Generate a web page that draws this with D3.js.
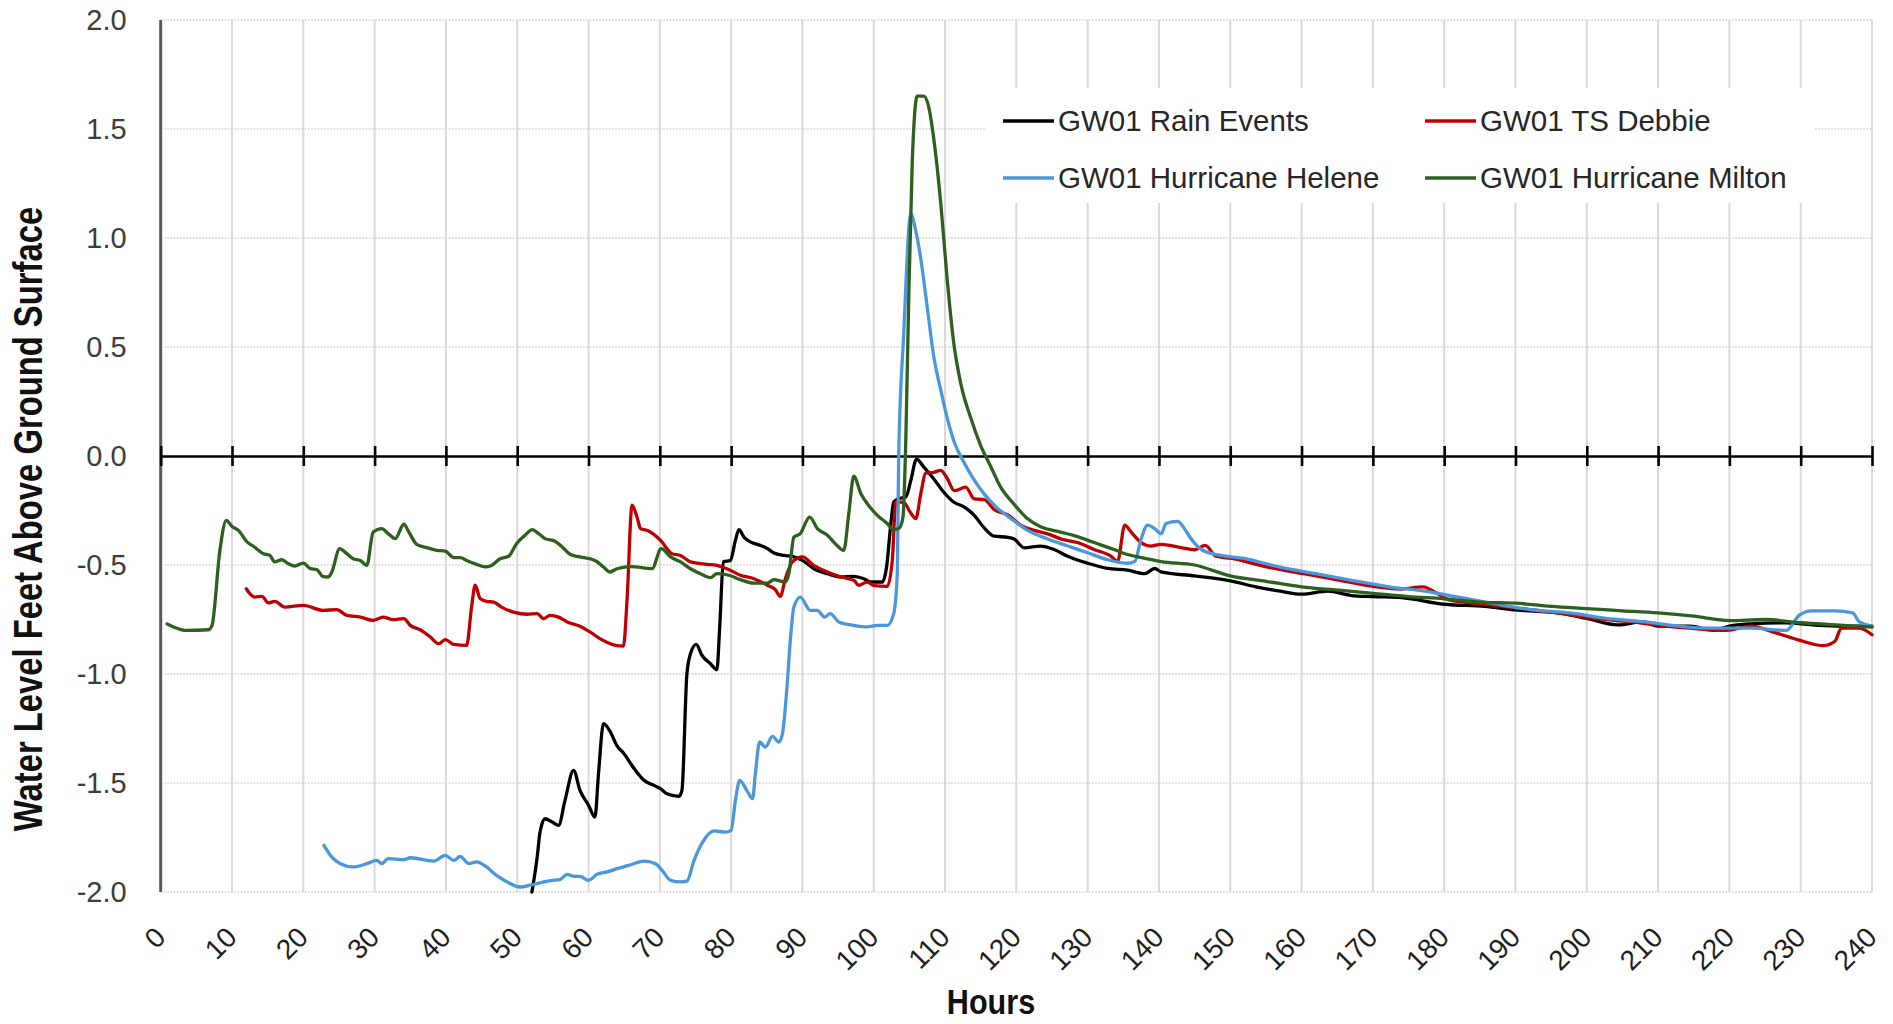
<!DOCTYPE html>
<html>
<head>
<meta charset="utf-8">
<script src="https://cdn.jsdelivr.net/npm/d3@7"></script>
<style>
  html, body { margin: 0; padding: 0; background: #ffffff; }
  svg { display: block; }
</style>
</head>
<body>
<svg id="chart" width="1893" height="1024"></svg>
<script>
// Water level readings at well GW01: [hours since start, feet above ground surface]
const rainEvents = [
  [52.06,-2.0],[52.8,-1.84],[53.2,-1.725],[53.9,-1.664],[54.9,-1.679],[55.8,-1.694],[56.7,-1.58],
  [57.9,-1.442],[58.8,-1.534],[60.0,-1.602],[60.9,-1.656],[61.4,-1.457],[62.1,-1.228],[63.0,-1.262],
  [64.0,-1.33],[64.9,-1.362],[66.4,-1.434],[67.8,-1.488],[69.2,-1.511],[70.1,-1.526],[71.0,-1.549],
  [72.7,-1.561],[73.1,-1.534],[73.8,-0.998],[74.3,-0.907],[75.1,-0.864],[75.9,-0.914],[77.1,-0.953],
  [78.0,-0.980],[78.4,-0.784],[78.9,-0.486],[79.9,-0.479],[80.6,-0.387],[81.1,-0.338],[81.8,-0.372],
  [82.7,-0.394],[84.1,-0.410],[85.1,-0.425],[86.0,-0.445],[87.4,-0.456],[88.6,-0.460],[90.0,-0.479],
  [91.6,-0.517],[93.5,-0.540],[95.4,-0.555],[97.2,-0.552],[98.6,-0.563],[99.6,-0.578],[101.2,-0.578],
  [101.8,-0.509],[102.4,-0.310],[102.8,-0.211],[103.5,-0.196],[104.5,-0.188],[105.2,-0.112],[106.0,-0.014],
  [107.0,-0.050],[108.4,-0.104],[109.8,-0.165],[111.2,-0.211],[112.7,-0.234],[114.1,-0.272],[115.5,-0.330],
  [116.9,-0.368],[118.8,-0.373],[119.7,-0.381],[121.1,-0.421],[123.4,-0.413],[125.3,-0.429],[127.2,-0.460],
  [130.0,-0.492],[132.8,-0.516],[135.6,-0.524],[138.0,-0.540],[139.4,-0.516],[140.3,-0.532],[145,-0.55],
  [150,-0.573],[153.6,-0.60],[157,-0.62],[160,-0.634],[163.7,-0.62],[167,-0.64],[170,-0.645],[174,-0.65],
  [180,-0.68],[185.7,-0.69],[190,-0.706],[196,-0.72],[200,-0.745],[204.4,-0.775],[207.8,-0.76],[210,-0.78],
  [214.5,-0.78],[217.9,-0.80],[220,-0.78],[223,-0.77],[228,-0.765],[230,-0.77],[235,-0.78],[240,-0.78]
];

const tsDebbie = [
  [12.0,-0.609],[12.5,-0.631],[13.2,-0.647],[14.2,-0.644],[15.1,-0.674],[16.0,-0.667],[17.4,-0.693],
  [20.0,-0.685],[22.8,-0.708],[24.7,-0.705],[26.1,-0.731],[28.0,-0.739],[29.8,-0.754],[31.2,-0.739],
  [32.6,-0.751],[34.1,-0.746],[35.0,-0.777],[36.4,-0.797],[37.8,-0.830],[39.0,-0.861],[39.9,-0.842],
  [41.1,-0.864],[42.9,-0.869],[43.6,-0.693],[44.1,-0.593],[44.8,-0.654],[45.7,-0.667],[46.7,-0.670],
  [47.8,-0.693],[49.5,-0.716],[51.4,-0.726],[52.8,-0.723],[53.7,-0.746],[54.6,-0.731],[55.8,-0.739],
  [57.0,-0.761],[58.8,-0.781],[60.2,-0.807],[61.6,-0.838],[63.5,-0.866],[64.9,-0.872],[65.4,-0.662],
  [66.1,-0.226],[66.8,-0.280],[67.3,-0.333],[68.2,-0.341],[70.1,-0.387],[71.7,-0.448],[72.9,-0.456],
  [74.3,-0.486],[76.6,-0.497],[78.0,-0.502],[79.4,-0.517],[81.3,-0.547],[83.2,-0.563],[85.1,-0.593],
  [86.2,-0.613],[86.9,-0.644],[87.6,-0.563],[88.6,-0.486],[90.0,-0.463],[91.6,-0.502],[93.5,-0.532],
  [95.4,-0.555],[97.2,-0.570],[97.9,-0.593],[99.1,-0.578],[100.0,-0.595],[101.9,-0.598],[102.6,-0.479],
  [103.1,-0.210],[104.2,-0.213],[105.1,-0.257],[105.9,-0.287],[106.6,-0.173],[107.3,-0.078],[108.4,-0.075],
  [109.4,-0.066],[110.3,-0.103],[111.3,-0.159],[112.9,-0.143],[114.1,-0.197],[115.5,-0.200],[116.9,-0.246],
  [118.8,-0.270],[120.6,-0.317],[122.5,-0.341],[124.4,-0.357],[126.3,-0.381],[128.6,-0.397],[130.9,-0.429],
  [133.3,-0.460],[134.2,-0.484],[135.2,-0.317],[136.1,-0.349],[137.5,-0.397],[138.9,-0.413],[140.3,-0.405],
  [143,-0.42],[145,-0.43],[146.5,-0.41],[148,-0.46],[150.2,-0.47],[155.3,-0.51],[160.3,-0.54],[165.4,-0.57],
  [170.5,-0.60],[174,-0.61],[177,-0.60],[179,-0.63],[180.7,-0.66],[185.7,-0.68],[190.8,-0.70],[195.9,-0.72],
  [201,-0.745],[206,-0.76],[211.1,-0.78],[214.5,-0.79],[219.6,-0.80],[223,-0.78],[226.4,-0.81],[229.8,-0.845],
  [233.2,-0.87],[234.8,-0.85],[235.7,-0.79],[238.2,-0.79],[240,-0.82]
];

const hurricaneHelene = [
  [22.9,-1.786],[24.0,-1.84],[25.2,-1.87],[27.0,-1.885],[28.9,-1.87],[30.3,-1.855],[31.0,-1.87],
  [31.9,-1.847],[34.1,-1.852],[35.0,-1.843],[38.3,-1.858],[39.9,-1.832],[41.1,-1.855],[42.0,-1.837],
  [43.2,-1.87],[44.3,-1.862],[45.7,-1.885],[47.1,-1.924],[48.6,-1.954],[50.4,-1.977],[51.8,-1.969],
  [53.7,-1.954],[55.1,-1.946],[56.0,-1.943],[57.0,-1.919],[57.9,-1.928],[58.8,-1.928],[60.0,-1.946],
  [61.2,-1.919],[62.6,-1.908],[64.0,-1.893],[65.9,-1.875],[67.8,-1.858],[69.4,-1.87],[70.3,-1.90],
  [71.5,-1.946],[72.9,-1.954],[73.8,-1.95],[74.8,-1.855],[76.0,-1.771],[77.6,-1.72],[79.2,-1.725],
  [80.0,-1.717],[80.6,-1.58],[81.2,-1.488],[82.2,-1.534],[83.0,-1.572],[83.4,-1.457],[84.0,-1.312],
  [84.8,-1.335],[85.8,-1.286],[86.7,-1.312],[87.2,-1.274],[87.8,-1.075],[88.3,-0.846],[88.8,-0.693],
  [89.7,-0.647],[91.1,-0.708],[92.1,-0.708],[93.1,-0.739],[93.9,-0.723],[95.1,-0.761],[97.2,-0.777],
  [99.1,-0.784],[100.5,-0.777],[101.9,-0.777],[102.8,-0.723],[103.3,-0.540],[103.5,0.0],[104.2,0.556],
  [105.2,1.111],[105.9,1.032],[106.6,0.905],[107.5,0.683],[108.4,0.460],[109.4,0.302],[110.3,0.175],
  [111.3,0.063],[112.7,-0.032],[114.1,-0.111],[115.5,-0.175],[117.3,-0.238],[119.2,-0.286],[121.6,-0.341],
  [124.4,-0.381],[127.2,-0.413],[130.0,-0.444],[132.8,-0.476],[135.6,-0.492],[136.6,-0.484],[137.5,-0.381],
  [138.4,-0.317],[139.4,-0.333],[140.3,-0.357],[141,-0.31],[142.6,-0.30],[143.5,-0.33],[144.3,-0.37],
  [146,-0.43],[148.5,-0.455],[151.9,-0.47],[157,-0.51],[162,-0.54],[167,-0.57],[172.2,-0.60],[177.3,-0.62],
  [182.4,-0.65],[187.4,-0.68],[192.5,-0.706],[197.6,-0.72],[202.7,-0.745],[207.8,-0.76],[212.8,-0.78],
  [217.9,-0.79],[223,-0.79],[228,-0.80],[229.8,-0.73],[231.5,-0.71],[234.8,-0.71],[237.3,-0.72],
  [238.2,-0.76],[240,-0.78]
];

const hurricaneMilton = [
  [0.9,-0.77],[1.8,-0.784],[3.6,-0.80],[6.7,-0.797],[7.2,-0.777],[8.3,-0.433],[9.2,-0.295],[10.0,-0.323],
  [10.9,-0.341],[12.1,-0.394],[13.0,-0.414],[14.4,-0.448],[15.3,-0.456],[16.0,-0.486],[17.0,-0.476],
  [17.9,-0.494],[18.8,-0.505],[20.0,-0.491],[21.0,-0.517],[21.9,-0.521],[22.7,-0.552],[23.5,-0.555],
  [24.0,-0.532],[25.1,-0.425],[26.1,-0.448],[27.0,-0.471],[28.0,-0.479],[28.9,-0.502],[29.8,-0.349],
  [31.0,-0.333],[31.9,-0.356],[32.9,-0.379],[34.1,-0.313],[34.8,-0.349],[35.9,-0.405],[37.3,-0.420],
  [38.7,-0.433],[39.9,-0.436],[41.1,-0.466],[42.0,-0.466],[42.9,-0.479],[44.3,-0.497],[45.5,-0.509],
  [46.4,-0.502],[47.6,-0.471],[48.8,-0.460],[49.9,-0.402],[51.1,-0.364],[52.1,-0.338],[53.0,-0.356],
  [53.9,-0.379],[55.3,-0.391],[56.3,-0.417],[57.4,-0.451],[58.8,-0.463],[60.9,-0.479],[62.1,-0.509],
  [63.0,-0.532],[64.0,-0.517],[66.0,-0.507],[68.9,-0.517],[70.2,-0.425],[71.5,-0.463],[72.9,-0.486],
  [74.3,-0.517],[75.7,-0.540],[77.1,-0.558],[78.0,-0.540],[79.7,-0.547],[81.3,-0.567],[83.2,-0.583],
  [85.1,-0.583],[86.0,-0.567],[87.6,-0.578],[88.1,-0.540],[88.8,-0.372],[89.7,-0.356],[91.0,-0.280],
  [92.1,-0.333],[93.5,-0.364],[94.6,-0.402],[95.8,-0.433],[96.5,-0.265],[97.2,-0.093],[98.2,-0.173],
  [99.1,-0.219],[100.5,-0.272],[101.9,-0.310],[102.8,-0.338],[103.6,-0.330],[104.1,-0.280],[104.5,0.079],
  [104.9,0.714],[105.4,1.349],[106.1,1.651],[107.0,1.651],[107.7,1.603],[108.4,1.46],[109.4,1.159],
  [110.3,0.81],[111.2,0.524],[112.2,0.333],[113.6,0.175],[115.0,0.048],[116.4,-0.048],[117.8,-0.143],
  [119.7,-0.222],[121.5,-0.286],[123.4,-0.325],[126.2,-0.349],[128.1,-0.365],[130.9,-0.397],[133.7,-0.429],
  [135.6,-0.452],[137.9,-0.468],[140.3,-0.484],[145,-0.50],[150,-0.55],[155,-0.575],[160,-0.60],
  [165,-0.615],[170,-0.63],[175,-0.645],[180,-0.655],[185,-0.67],[190,-0.675],[195,-0.69],[200,-0.70],
  [205,-0.71],[210,-0.72],[215,-0.735],[220,-0.755],[225,-0.75],[230,-0.765],[235,-0.775],[240,-0.785]
];

const seriesNames = ["GW01 Rain Events", "GW01 TS Debbie", "GW01 Hurricane Helene", "GW01 Hurricane Milton"];
const seriesData = [rainEvents, tsDebbie, hurricaneHelene, hurricaneMilton];
const seriesColors = ["#000000", "#c00000", "#4a97dc", "#2d5f1f"];

const hourTicks = d3.range(0, 241, 10);
const levelTicks = [2.0, 1.5, 1.0, 0.5, 0.0, -0.5, -1.0, -1.5, -2.0];

const yTitle = "Water Level Feet  Above Ground Surface";
const xTitle = "Hours";

// ---- layout ----
const plot = { left: 160.7, right: 1872, top: 20, bottom: 892 };
const svg = d3.select("#chart");

svg.append("rect").attr("width", 1893).attr("height", 1024).attr("fill", "#ffffff");

const x = d3.scaleLinear().domain([0, 240]).range([plot.left, plot.right]);
const y = d3.scaleLinear().domain([-2, 2]).range([plot.bottom, plot.top]);

const tickFont = "'Liberation Sans', Arial, sans-serif";

// vertical grid (solid) every 10 hours
svg.append("g")
  .selectAll("line")
  .data(hourTicks.filter(d => d > 0))
  .join("line")
  .attr("x1", d => x(d)).attr("x2", d => x(d))
  .attr("y1", plot.top).attr("y2", plot.bottom)
  .attr("stroke", "#d9d9d9").attr("stroke-width", 2);

// horizontal grid (dotted) every 0.5 ft
svg.append("g")
  .selectAll("line")
  .data(levelTicks.filter(d => d !== 0))
  .join("line")
  .attr("x1", plot.left).attr("x2", plot.right)
  .attr("y1", d => y(d)).attr("y2", d => y(d))
  .attr("stroke", "#d2d2d2").attr("stroke-width", 1.6)
  .attr("stroke-dasharray", "1.6,1.6");

// y axis (labels only, dark vertical rule)
const yAxis = d3.axisLeft(y).tickValues(levelTicks).tickSize(0).tickPadding(34)
  .tickFormat(d3.format(".1f"));
const yg = svg.append("g").attr("transform", `translate(${plot.left},0)`).call(yAxis);
yg.select(".domain").remove();
yg.selectAll("text")
  .attr("font-family", tickFont).attr("font-size", 29).attr("fill", "#3c3c3c")
  .text(d => d3.format(".1f")(d).replace("−", "-"));

svg.append("line")
  .attr("x1", plot.left).attr("x2", plot.left)
  .attr("y1", plot.top).attr("y2", plot.bottom)
  .attr("stroke", "#595959").attr("stroke-width", 3);

// x labels along the bottom, rotated
const xg = svg.append("g").attr("transform", `translate(0,${plot.bottom})`)
  .call(d3.axisBottom(x).tickValues(hourTicks).tickSize(0).tickFormat(d3.format("d")));
xg.select(".domain").remove();
xg.selectAll("text")
  .attr("font-family", tickFont).attr("font-size", 28).attr("fill", "#1e1e1e")
  .attr("text-anchor", "end")
  .attr("dy", null).attr("y", null)
  .attr("transform", "translate(6,47) rotate(-45)");

// zero line acts as the hour axis, with crossing tick marks
const zeroAxis = d3.axisBottom(x).tickValues(hourTicks).tickSizeInner(10).tickSizeOuter(0).tickFormat("");
const zg = svg.append("g").attr("transform", `translate(0,${y(0)})`).call(zeroAxis);
zg.select(".domain").attr("stroke", "#000").attr("stroke-width", 2.6);
zg.selectAll(".tick line").attr("y1", -10).attr("y2", 10).attr("stroke", "#000").attr("stroke-width", 2.6);

// series lines
const line = d3.line()
  .x(d => x(d[0]))
  .y(d => y(d[1]))
  .curve(d3.curveMonotoneX);

svg.append("g")
  .selectAll("path")
  .data(seriesData)
  .join("path")
  .attr("d", d => line(d))
  .attr("fill", "none")
  .attr("stroke", (d, i) => seriesColors[i])
  .attr("stroke-width", 3.3)
  .attr("stroke-linejoin", "round")
  .attr("stroke-linecap", "round");

// legend
const legend = svg.append("g");
legend.append("rect")
  .attr("x", 985).attr("y", 88).attr("width", 830).attr("height", 115)
  .attr("fill", "#ffffff");
const legendPos = [[1003, 121], [1425, 121], [1003, 178], [1425, 178]];
const items = legend.selectAll("g.item")
  .data(seriesNames)
  .join("g").attr("class", "item")
  .attr("transform", (d, i) => `translate(${legendPos[i][0]},${legendPos[i][1]})`);
items.append("line")
  .attr("x1", 0).attr("x2", 51).attr("y1", 0).attr("y2", 0)
  .attr("stroke", (d, i) => seriesColors[i]).attr("stroke-width", 3.6);
items.append("text")
  .attr("x", 55).attr("y", 0).attr("dy", "0.35em")
  .attr("font-family", tickFont).attr("font-size", 29.5).attr("fill", "#262626")
  .text(d => d);

// axis titles: bold, horizontally condensed
svg.append("text")
  .attr("transform", "translate(42,519) rotate(-90) scale(0.82,1)")
  .attr("text-anchor", "middle")
  .attr("font-family", tickFont).attr("font-weight", "bold").attr("font-size", 40)
  .attr("fill", "#111")
  .text(yTitle);

svg.append("text")
  .attr("transform", "translate(991,1014) scale(0.85,1)")
  .attr("text-anchor", "middle")
  .attr("font-family", tickFont).attr("font-weight", "bold").attr("font-size", 36)
  .attr("fill", "#111")
  .text(xTitle);
</script>
</body>
</html>
